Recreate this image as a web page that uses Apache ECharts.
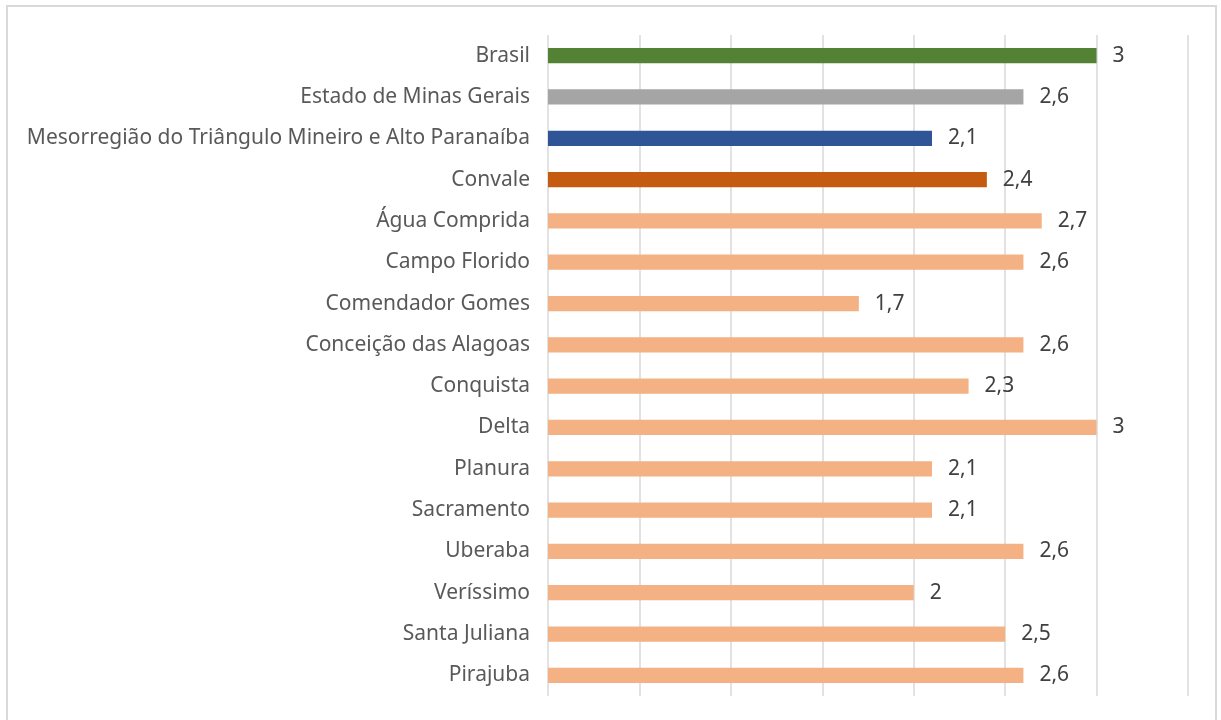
<!DOCTYPE html>
<html>
<head>
<meta charset="utf-8">
<script src="https://cdn.jsdelivr.net/npm/echarts@6/dist/echarts.min.js"></script>
<style>
  html, body { margin: 0; padding: 0; background: #fff; }
  #chart { position: absolute; left: 6px; top: 5px; width: 1211px; height: 720px; border: 2px solid #d9d9d9; box-sizing: border-box; }
</style>
</head>
<body>
<div id="chart"></div>
<script>
// categorias (de cima para baixo)
const categories = [
    'Brasil', 'Estado de Minas Gerais', 'Mesorregião do Triângulo Mineiro e Alto Paranaíba',
    'Convale', 'Água Comprida', 'Campo Florido', 'Comendador Gomes', 'Conceição das Alagoas',
    'Conquista', 'Delta', 'Planura', 'Sacramento', 'Uberaba', 'Veríssimo', 'Santa Juliana', 'Pirajuba'
];
const values = [3, 2.6, 2.1, 2.4, 2.7, 2.6, 1.7, 2.6, 2.3, 3, 2.1, 2.1, 2.6, 2, 2.5, 2.6];
const barColors = [
    '#548235', '#a5a5a5', '#2f5597', '#c55a11',
    '#f4b183', '#f4b183', '#f4b183', '#f4b183', '#f4b183', '#f4b183',
    '#f4b183', '#f4b183', '#f4b183', '#f4b183', '#f4b183', '#f4b183'
];

const chart = echarts.init(document.getElementById('chart'));

const option = {
    animation: false,
    textStyle: { fontFamily: 'Noto Sans' },
    grid: {
        left: 540,
        right: 27,
        top: 28,
        bottom: 27,
        containLabel: false
    },
    xAxis: {
        type: 'value',
        min: 0,
        max: 3.5,
        interval: 0.5,
        axisLine: { show: false },
        axisTick: { show: false },
        axisLabel: { show: false },
        splitLine: { lineStyle: { color: '#d9d9d9', width: 1.5 } }
    },
    yAxis: {
        type: 'category',
        inverse: true,
        data: categories,
        axisLine: { show: false },
        axisTick: { show: false },
        axisLabel: { color: '#595959', fontSize: 21, margin: 18 }
    },
    series: [{
        type: 'bar',
        barWidth: '37%',
        data: values.map((v, i) => ({ value: v, itemStyle: { color: barColors[i] } })),
        label: {
            show: true,
            position: 'right',
            distance: 16,
            color: '#404040',
            fontSize: 21,
            formatter: p => String(p.value).replace('.', ',')
        }
    }]
};

chart.setOption(option);
</script>
</body>
</html>
